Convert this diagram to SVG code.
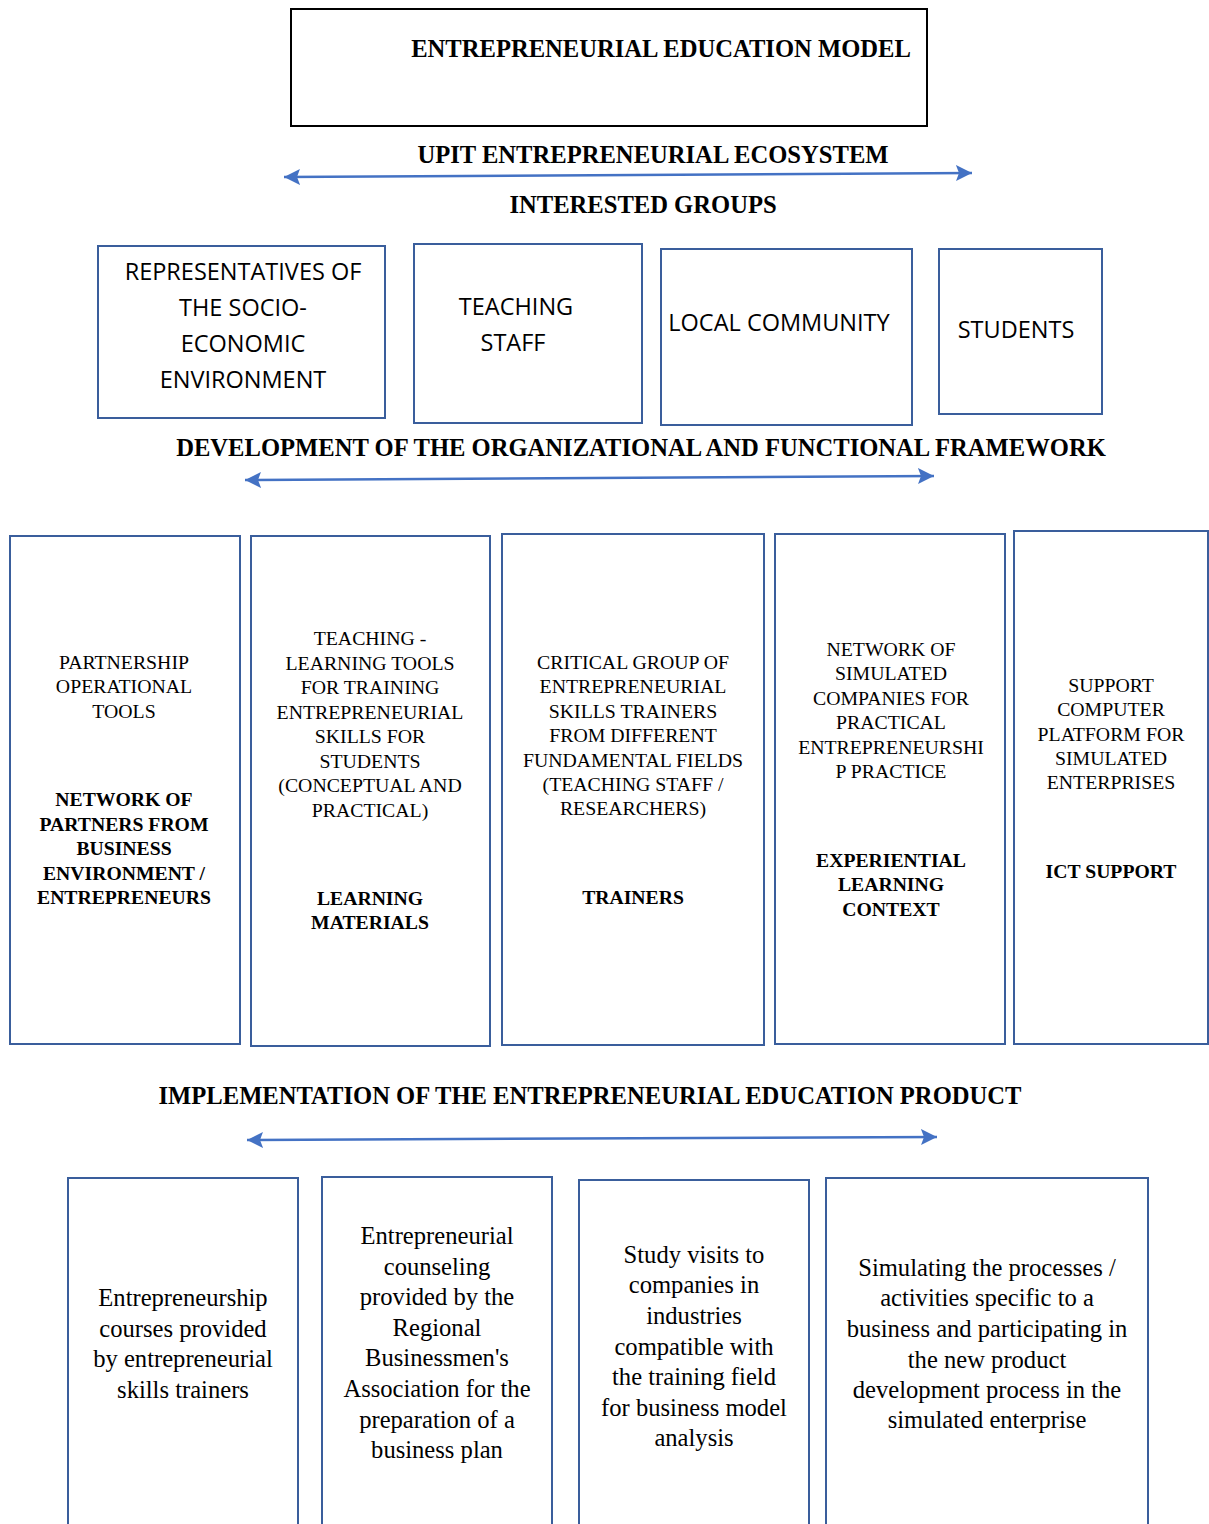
<svg xmlns="http://www.w3.org/2000/svg" width="1209" height="1524" viewBox="0 0 1209 1524">
<defs>
<marker id="ah" markerUnits="userSpaceOnUse" markerWidth="18" markerHeight="18" viewBox="0 0 18 18" refX="16" refY="9" orient="auto-start-reverse">
<path d="M0,1 L16,9 L0,17 L3,9 Z" fill="#4472C4"/>
</marker>
<style>
.box{fill:#fff;stroke:#3A5E9C;stroke-width:2}
.hdr{font-family:"Liberation Serif","Times New Roman",serif;font-weight:bold;font-size:24.6px;fill:#000;text-anchor:middle}
.sans{font-family:"Open Sans","Noto Sans","Liberation Sans",sans-serif;font-size:23.5px;fill:#000;text-anchor:middle}
.mid{font-family:"Liberation Serif","Times New Roman",serif;font-size:19.8px;fill:#000;text-anchor:middle}
.midb{font-family:"Liberation Serif","Times New Roman",serif;font-size:19.7px;font-weight:bold;fill:#000;text-anchor:middle}
.low{font-family:"Liberation Serif","Times New Roman",serif;font-size:24.6px;fill:#000;text-anchor:middle}
.arr{stroke:#4472C4;stroke-width:2.5;fill:none}
</style>
</defs>
<rect width="1209" height="1524" fill="#fff"/>

<g id="title">
<rect x="291" y="9" width="636" height="117" fill="#fff" stroke="#000" stroke-width="2"/>
<text class="hdr" x="661" y="57">ENTREPRENEURIAL EDUCATION MODEL</text>
</g>

<g id="headings">
<text class="hdr" x="653" y="163">UPIT ENTREPRENEURIAL ECOSYSTEM</text>
<text class="hdr" x="643" y="213">INTERESTED GROUPS</text>
<text class="hdr" x="641" y="456">DEVELOPMENT OF THE ORGANIZATIONAL AND FUNCTIONAL FRAMEWORK</text>
<text class="hdr" x="590" y="1104">IMPLEMENTATION OF THE ENTREPRENEURIAL EDUCATION PRODUCT</text>
</g>

<g id="connectors">
<line class="arr" x1="284" y1="177" x2="972" y2="173" marker-start="url(#ah)" marker-end="url(#ah)"/>
<line class="arr" x1="245" y1="480" x2="934" y2="476" marker-start="url(#ah)" marker-end="url(#ah)"/>
<line class="arr" x1="247" y1="1140" x2="937" y2="1137" marker-start="url(#ah)" marker-end="url(#ah)"/>
</g>

<g id="g1">
<rect class="box" x="98" y="246" width="287" height="172"/>
<text class="sans"><tspan x="243" y="280">REPRESENTATIVES OF</tspan><tspan x="243" y="316">THE SOCIO-</tspan><tspan x="243" y="352">ECONOMIC</tspan><tspan x="243" y="388">ENVIRONMENT</tspan></text>
</g>
<g id="g2">
<rect class="box" x="414" y="244" width="228" height="179"/>
<text class="sans"><tspan x="516" y="315">TEACHING</tspan><tspan x="513" y="351">STAFF</tspan></text>
</g>
<g id="g3">
<rect class="box" x="661" y="249" width="251" height="176"/>
<text class="sans" x="779" y="331">LOCAL COMMUNITY</text>
</g>
<g id="g4">
<rect class="box" x="939" y="249" width="163" height="165"/>
<text class="sans" x="1016" y="338">STUDENTS</text>
</g>

<g id="f1">
<rect class="box" x="10" y="536" width="230" height="508"/>
<text class="mid"><tspan x="124" y="669">PARTNERSHIP</tspan><tspan x="124" y="693">OPERATIONAL</tspan><tspan x="124" y="718">TOOLS</tspan></text>
<text class="midb"><tspan x="124" y="806">NETWORK OF</tspan><tspan x="124" y="831">PARTNERS FROM</tspan><tspan x="124" y="855">BUSINESS</tspan><tspan x="124" y="880">ENVIRONMENT /</tspan><tspan x="124" y="904">ENTREPRENEURS</tspan></text>
</g>
<g id="f2">
<rect class="box" x="251" y="536" width="239" height="510"/>
<text class="mid"><tspan x="370" y="645">TEACHING -</tspan><tspan x="370" y="670">LEARNING TOOLS</tspan><tspan x="370" y="694">FOR TRAINING</tspan><tspan x="370" y="719">ENTREPRENEURIAL</tspan><tspan x="370" y="743">SKILLS FOR</tspan><tspan x="370" y="768">STUDENTS</tspan><tspan x="370" y="792">(CONCEPTUAL AND</tspan><tspan x="370" y="817">PRACTICAL)</tspan></text>
<text class="midb"><tspan x="370" y="905">LEARNING</tspan><tspan x="370" y="929">MATERIALS</tspan></text>
</g>
<g id="f3">
<rect class="box" x="502" y="534" width="262" height="511"/>
<text class="mid"><tspan x="633" y="669">CRITICAL GROUP OF</tspan><tspan x="633" y="693">ENTREPRENEURIAL</tspan><tspan x="633" y="718">SKILLS TRAINERS</tspan><tspan x="633" y="742">FROM DIFFERENT</tspan><tspan x="633" y="767">FUNDAMENTAL FIELDS</tspan><tspan x="633" y="791">(TEACHING STAFF /</tspan><tspan x="633" y="815">RESEARCHERS)</tspan></text>
<text class="midb" x="633" y="904">TRAINERS</text>
</g>
<g id="f4">
<rect class="box" x="775" y="534" width="230" height="510"/>
<text class="mid"><tspan x="891" y="656">NETWORK OF</tspan><tspan x="891" y="680">SIMULATED</tspan><tspan x="891" y="705">COMPANIES FOR</tspan><tspan x="891" y="729">PRACTICAL</tspan><tspan x="891" y="754">ENTREPRENEURSHI</tspan><tspan x="891" y="778">P PRACTICE</tspan></text>
<text class="midb"><tspan x="891" y="867">EXPERIENTIAL</tspan><tspan x="891" y="891">LEARNING</tspan><tspan x="891" y="916">CONTEXT</tspan></text>
</g>
<g id="f5">
<rect class="box" x="1014" y="531" width="194" height="513"/>
<text class="mid"><tspan x="1111" y="692">SUPPORT</tspan><tspan x="1111" y="716">COMPUTER</tspan><tspan x="1111" y="741">PLATFORM FOR</tspan><tspan x="1111" y="765">SIMULATED</tspan><tspan x="1111" y="789">ENTERPRISES</tspan></text>
<text class="midb" x="1111" y="878">ICT SUPPORT</text>
</g>

<g id="p1">
<rect class="box" x="68" y="1178" width="230" height="360"/>
<text class="low"><tspan x="183" y="1306">Entrepreneurship</tspan><tspan x="183" y="1337">courses provided</tspan><tspan x="183" y="1367">by entrepreneurial</tspan><tspan x="183" y="1398">skills trainers</tspan></text>
</g>
<g id="p2">
<rect class="box" x="322" y="1177" width="230" height="360"/>
<text class="low"><tspan x="437" y="1244">Entrepreneurial</tspan><tspan x="437" y="1275">counseling</tspan><tspan x="437" y="1305">provided by the</tspan><tspan x="437" y="1336">Regional</tspan><tspan x="437" y="1366">Businessmen's</tspan><tspan x="437" y="1397">Association for the</tspan><tspan x="437" y="1428">preparation of a</tspan><tspan x="437" y="1458">business plan</tspan></text>
</g>
<g id="p3">
<rect class="box" x="579" y="1180" width="230" height="360"/>
<text class="low"><tspan x="694" y="1263">Study visits to</tspan><tspan x="694" y="1293">companies in</tspan><tspan x="694" y="1324">industries</tspan><tspan x="694" y="1355">compatible with</tspan><tspan x="694" y="1385">the training field</tspan><tspan x="694" y="1416">for business model</tspan><tspan x="694" y="1446">analysis</tspan></text>
</g>
<g id="p4">
<rect class="box" x="826" y="1178" width="322" height="360"/>
<text class="low"><tspan x="987" y="1276">Simulating the processes /</tspan><tspan x="987" y="1306">activities specific to a</tspan><tspan x="987" y="1337">business and participating in</tspan><tspan x="987" y="1368">the new product</tspan><tspan x="987" y="1398">development process in the</tspan><tspan x="987" y="1428">simulated enterprise</tspan></text>
</g>
</svg>
